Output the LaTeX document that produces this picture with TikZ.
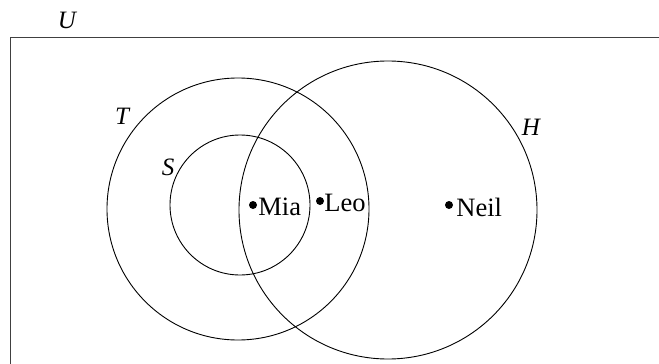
\documentclass[tikz,border=0pt]{standalone}
\usepackage{fontspec}
\setmainfont{Liberation Serif}
\begin{document}
\begin{tikzpicture}[x=1pt,y=-1pt,
  setc/.style={draw=black, line width=0.9pt, circle, inner sep=0pt},
  dot/.style={fill=black, circle, inner sep=0pt, minimum size=8pt},
  lab/.style={font=\fontsize{25}{28}\selectfont\itshape, inner sep=0pt},
  elname/.style={font=\fontsize{26.5}{30}\selectfont, inner sep=0pt, anchor=west}]
\useasboundingbox (0,0) rectangle (659,364);
\clip (0,0) rectangle (659,364);
\node[draw=black!75, line width=1.4pt, inner sep=0pt, minimum width=700pt, minimum height=360pt, anchor=north west] (U) at (10,37) {};
\node[lab] (Ul) at (67,20) {U};
\node[setc, minimum size=262pt] (T) at (238,209) {};
\node[setc, minimum size=140pt] (S) at (240,205) {};
\node[setc, minimum size=298pt] (H) at (388,210) {};
\node[lab] (Tl) at (122,116) {T};
\node[lab] (Sl) at (168,167) {S};
\node[lab] (Hl) at (531,127) {H};
\node[dot] (mia) at (253,205) {};
\node[elname] (mial) at ([xshift=1pt,yshift=-2pt]mia.east) {Mia};
\node[dot] (leo) at (320,201) {};
\node[elname] (leol) at ([xshift=0pt,yshift=-2pt]leo.east) {Leo};
\node[dot] (neil) at (449,205) {};
\node[elname] (neill) at ([xshift=3pt,yshift=-2pt]neil.east) {Neil};
\end{tikzpicture}
\end{document}
